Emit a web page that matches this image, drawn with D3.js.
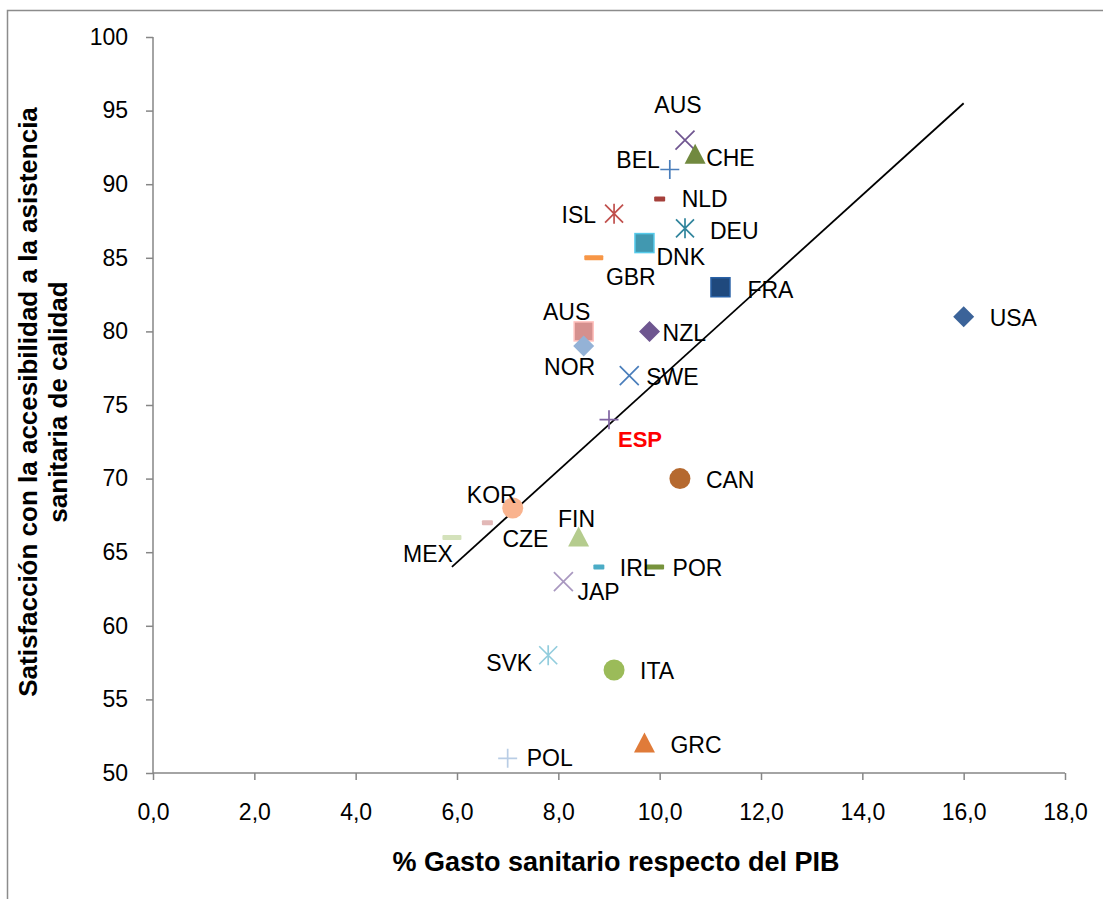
<!DOCTYPE html>
<html>
<head>
<meta charset="utf-8">
<script src="https://cdn.jsdelivr.net/npm/d3@7"></script>
<style>
  html, body { margin: 0; padding: 0; background: #fff; }
  svg { display: block; font-family: Arial, "Liberation Sans", sans-serif; }
</style>
</head>
<body>
<svg id="chart" width="1103" height="899"></svg>
<script>
// Health spending (% of GDP) vs. satisfaction with access to quality care
const countries = ["USA","AUS","CHE","BEL","NLD","ISL","DEU","DNK","GBR","FRA","AUS","NOR","NZL","SWE","ESP","CAN","KOR","CZE","MEX","FIN","IRL","POR","JAP","SVK","ITA","GRC","POL"];
const gasto = [16.0,10.5,10.7,10.2,10.0,9.1,10.5,9.7,8.7,11.2,8.5,8.5,9.8,9.4,9.0,10.4,7.1,6.6,5.9,8.4,8.8,9.9,8.1,7.8,9.1,9.7,7.0];
const satisfaccion = [81,93,92,91,89,88,87,86,85,83,80,79,80,77,74,70,68,67,66,66,64,64,63,58,57,52,51];

// Linear trend line endpoints
const trendX = [5.9, 16.0];
const trendY = [64.0, 95.5];

const xTicks = [0,2,4,6,8,10,12,14,16,18];
const yTicks = [50,55,60,65,70,75,80,85,90,95,100];

// Marker shape and colour for each country
const markerShapes = ["diamond","x","triangle","plus","dashS","star","star","square","dash","square","square","diamond","diamond","x","plus","circle","circle","dashS","dash","triangle","dashS","dash","x","star","circle","triangle","plus"];
const markerColors = ["#3b6399","#705691","#71893f","#4a7ebb","#a5403b","#c0504d","#31859c","#4198b0","#f79646","#1f497d","#d5908e","#94b2d6","#6e5690","#4a7ebb","#8064a2","#b5692f","#f9b38e","#e2b8b7","#d4e2bb","#b5cc8e","#4bacc6","#77933c","#a998c0","#93cddd","#9bbb59","#e07b39","#b9cde5"];

// Label placement relative to each marker: [dx, dy, anchor]
const labelPlace = [
  [26,1,"start"],[-7,-35,"middle"],[11,3,"start"],[-10,-10,"end"],[22,0,"start"],
  [-18,1,"end"],[25,2,"start"],[12,14,"start"],[37,19,"middle"],[27,2,"start"],
  [-17,-20,"middle"],[-14,21,"middle"],[13,1,"start"],[17,1,"start"],[31,19,"middle"],
  [26,1,"start"],[-21,-13,"middle"],[38,16,"middle"],[-24,16,"middle"],[-2,-19,"middle"],
  [21,1,"start"],[18,1,"start"],[14,10,"start"],[-16,7,"end"],[26,1,"start"],
  [26,1,"start"],[19,-1,"start"]
];

const svg = d3.select("#chart");

// Outer frame (extends past the window on the right and bottom)
svg.append("path")
  .attr("d", "M7.5,905 L7.5,10.5 L1110,10.5")
  .attr("fill", "none").attr("stroke", "#8c8c8c").attr("stroke-width", 1.5);

const x = d3.scaleLinear().domain([0, 18]).range([153, 1065]);
const y = d3.scaleLinear().domain([50, 100]).range([773, 37]);

const axisColor = "#868686";
const fontFam = "Arial, 'Liberation Sans', sans-serif";

// X axis
const gx = svg.append("g").attr("transform", `translate(0,${y(50)})`)
  .call(d3.axisBottom(x).tickValues(xTicks).tickSize(7).tickPadding(24)
    .tickFormat(d => d3.format(".1f")(d).replace(".", ",")));
gx.select(".domain").attr("stroke", axisColor).attr("stroke-width", 1.5).attr("d", `M${x(0)},0H${x(18)}`);
gx.selectAll(".tick line").attr("stroke", axisColor).attr("stroke-width", 1.5);
gx.selectAll(".tick text").attr("fill", "#000").attr("font-size", 23).attr("font-family", fontFam);

// Y axis
const gy = svg.append("g").attr("transform", `translate(${x(0)},0)`)
  .call(d3.axisLeft(y).tickValues(yTicks).tickSize(7).tickPadding(18));
gy.select(".domain").attr("stroke", axisColor).attr("stroke-width", 1.5).attr("d", `M0,${y(50)}V${y(100)}`);
gy.selectAll(".tick line").attr("stroke", axisColor).attr("stroke-width", 1.5);
gy.selectAll(".tick text").attr("fill", "#000").attr("font-size", 23).attr("font-family", fontFam);

// Axis titles
svg.append("text")
  .attr("x", 616).attr("y", 871)
  .attr("text-anchor", "middle")
  .attr("font-size", 27).attr("font-weight", "bold")
  .text("% Gasto sanitario respecto del PIB");

const yTitle = svg.append("text")
  .attr("transform", `translate(0,402) rotate(-90)`)
  .attr("text-anchor", "middle")
  .attr("font-size", 26).attr("font-weight", "bold");
yTitle.append("tspan").attr("x", 0).attr("y", 37).text("Satisfacción con la accesibilidad a la asistencia");
yTitle.append("tspan").attr("x", 0).attr("y", 67).text("sanitaria de calidad");

// Trend line
svg.append("line")
  .attr("x1", x(trendX[0])).attr("y1", y(trendY[0]))
  .attr("x2", x(trendX[1])).attr("y2", y(trendY[1]))
  .attr("stroke", "#000").attr("stroke-width", 1.8);

// Markers
function drawMarker(g, shape, color) {
  switch (shape) {
    case "diamond":
      g.append("path").attr("d", "M0,-10.5L10.5,0L0,10.5L-10.5,0Z").attr("fill", color);
      break;
    case "square":
      g.append("rect").attr("x", -9.5).attr("y", -9.5).attr("width", 19).attr("height", 19)
        .attr("fill", color).attr("stroke", d3.color(color).brighter(0.8)).attr("stroke-width", 1.5);
      break;
    case "circle":
      g.append("circle").attr("r", 10.5).attr("fill", color);
      break;
    case "triangle":
      g.append("path").attr("d", "M0,-11L10.5,9L-10.5,9Z").attr("fill", color);
      break;
    case "dash":
      g.append("rect").attr("x", -9.5).attr("y", -2.5).attr("width", 19).attr("height", 5).attr("rx", 1)
        .attr("fill", color);
      break;
    case "dashS":
      g.append("rect").attr("x", -5.5).attr("y", -2.5).attr("width", 11).attr("height", 5).attr("rx", 1)
        .attr("fill", color);
      break;
    case "x":
      g.append("path").attr("d", "M-9.5,-9.5L9.5,9.5M-9.5,9.5L9.5,-9.5").attr("stroke", color).attr("stroke-width", 1.7).attr("fill", "none");
      break;
    case "plus":
      g.append("path").attr("d", "M-9.5,0L9.5,0M0,-9.5L0,9.5").attr("stroke", color).attr("stroke-width", 1.7).attr("fill", "none");
      break;
    case "star":
      g.append("path").attr("d", "M-9,-9L9,9M-9,9L9,-9M0,-10L0,10").attr("stroke", color).attr("stroke-width", 1.7).attr("fill", "none");
      break;
  }
}

const pts = svg.append("g");
countries.forEach((c, i) => {
  const g = pts.append("g").attr("transform", `translate(${x(gasto[i])},${y(satisfaccion[i])})`);
  drawMarker(g, markerShapes[i], markerColors[i]);
});

// Country labels
const labels = svg.append("g");
countries.forEach((c, i) => {
  const [dx, dy, anchor] = labelPlace[i];
  const isEsp = c === "ESP";
  labels.append("text")
    .attr("x", x(gasto[i]) + dx)
    .attr("y", y(satisfaccion[i]) + dy)
    .attr("dy", "0.36em")
    .attr("text-anchor", anchor)
    .attr("font-size", isEsp ? 22 : 23)
    .attr("font-weight", isEsp ? "bold" : "normal")
    .attr("fill", isEsp ? "#ff0000" : "#000")
    .text(c);
});
</script>
</body>
</html>
